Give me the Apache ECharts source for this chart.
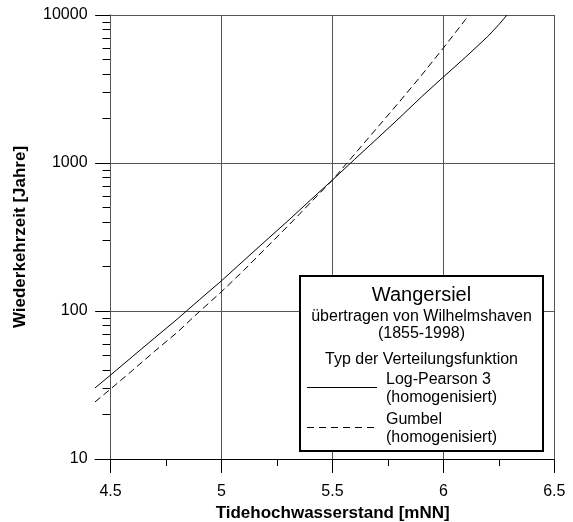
<!DOCTYPE html>
<html><head><meta charset="utf-8">
<script src="https://cdn.jsdelivr.net/npm/echarts@6/dist/echarts.min.js"></script>
<style>html,body{margin:0;padding:0;background:#fff}#c{width:573px;height:522px}</style>
</head><body><div id="c"></div>
<script>
// ---- data ----
const xMajorTicks = [4.5, 5, 5.5, 6, 6.5];
const xMinorTicks = [4.75, 5.25, 5.75, 6.25];
const yMajorTicks = [10, 100, 1000, 10000];
const yMinorTicks = [20, 30, 40, 50, 60, 70, 80, 90,
  200, 300, 400, 500, 600, 700, 800, 900,
  2000, 3000, 4000, 5000, 6000, 7000, 8000, 9000];

const xLogPearson = [4.43, 4.5, 4.6, 4.7, 4.8, 4.9, 5.0, 5.1, 5.2, 5.3, 5.4, 5.5, 5.6, 5.7, 5.8, 5.9, 6.0, 6.1, 6.2, 6.25, 6.287];
const yLogPearson = [30.2, 36.9, 49.4, 66, 88, 119, 160, 219, 299, 407, 560, 767, 1059, 1455, 2004, 2786, 3811, 5188, 7161, 8610, 10000];

const xGumbel = [4.43, 4.5, 4.6, 4.7, 4.8, 4.9, 5.0, 5.1, 5.2, 5.3, 5.4, 5.5, 5.6, 5.7, 5.8, 5.9, 6.0, 6.1, 6.115];
const yGumbel = [24.3, 29.7, 39.8, 53.7, 71.6, 98.9, 135, 188, 266, 376, 537, 767, 1148, 1718, 2570, 3890, 5984, 9333, 10000];

const xMin = 4.43, xMax = 6.5;
const FONT = '"Liberation Sans", Arial, sans-serif';

// ---- layout ----
const gridLeft = 95, gridRight = 18.7, gridTop = 15, gridBottom = 63;
const gridWidth = 573 - gridLeft - gridRight;
const yAxisOffset = -(4.5 - xMin) / (xMax - xMin) * gridWidth;

const chart = echarts.init(document.getElementById('c'), null, {renderer: 'canvas'});

const option = {
  animation: false,
  backgroundColor: '#fff',
  grid: {left: gridLeft, right: gridRight, top: gridTop, bottom: gridBottom, containLabel: false, outerBoundsMode: 'none'},
  xAxis: [{
    type: 'value', min: xMin, max: xMax, position: 'bottom',
    axisLine: {show: true, lineStyle: {color: '#000', width: 1}},
    axisTick: {show: true, inside: false, length: 14, customValues: xMajorTicks, lineStyle: {color: '#000'}},
    axisLabel: {show: true, customValues: xMajorTicks, margin: 25, fontSize: 16, color: '#000', fontFamily: FONT,
      formatter: v => String(v)},
    splitLine: {show: false},
    name: 'Tidehochwasserstand [mNN]', nameLocation: 'middle', nameGap: 38,
    nameTextStyle: {fontSize: 17, fontWeight: 'bold', color: '#000', fontFamily: FONT, padding: [0, 0, 0, 16]}
  }, {
    type: 'value', min: xMin, max: xMax, position: 'bottom',
    axisLine: {show: false},
    axisTick: {show: true, inside: false, length: 7, customValues: xMinorTicks, lineStyle: {color: '#000'}},
    axisLabel: {show: false},
    splitLine: {show: false}
  }],
  yAxis: [{
    type: 'log', logBase: 10, min: 10, max: 10000, offset: yAxisOffset,
    axisLine: {show: true, lineStyle: {color: '#000', width: 1}},
    axisTick: {show: true, inside: false, length: 15, customValues: yMajorTicks, lineStyle: {color: '#000'}},
    axisLabel: {show: true, customValues: yMajorTicks, margin: 23, fontSize: 16, color: '#000', fontFamily: FONT,
      formatter: v => String(Math.round(v))},
    splitLine: {show: true, lineStyle: {color: '#555', width: 1}},
    name: 'Wiederkehrzeit [Jahre]', nameLocation: 'middle', nameRotate: 90, nameGap: 82,
    nameTextStyle: {fontSize: 17, fontWeight: 'bold', color: '#000', fontFamily: FONT}
  }, {
    type: 'log', logBase: 10, min: 10, max: 10000, offset: yAxisOffset, position: 'left',
    axisLine: {show: false},
    axisTick: {show: true, inside: false, length: 8, customValues: yMinorTicks, lineStyle: {color: '#000'}},
    axisLabel: {show: false},
    splitLine: {show: false}
  }],
  series: [{
    name: 'Log-Pearson 3', type: 'line', xAxisIndex: 0, yAxisIndex: 0,
    data: xLogPearson.map((x, i) => [x, yLogPearson[i]]),
    showSymbol: false, symbol: 'none',
    lineStyle: {color: '#000', width: 1, type: 'solid'},
    z: 5,
    markLine: {
      silent: true, symbol: 'none', label: {show: false},
      lineStyle: {color: '#555', width: 1, type: 'solid'},
      data: xMajorTicks.map(v => ({xAxis: v})),
      z: 1
    }
  }, {
    name: 'Gumbel', type: 'line', xAxisIndex: 0, yAxisIndex: 0,
    data: xGumbel.map((x, i) => [x, yGumbel[i]]),
    showSymbol: false, symbol: 'none',
    lineStyle: {color: '#000', width: 1, type: [7, 4]},
    z: 5
  }],
  graphic: [
    {type: 'rect', z: 100, shape: {x: 300, y: 276, width: 243, height: 175},
     style: {fill: '#fff', stroke: '#000', lineWidth: 2}},
    {type: 'text', x: 421.5, y: 295, z: 101, style: {text: 'Wangersiel', font: '20px ' + FONT, fill: '#000', align: 'center', verticalAlign: 'middle'}},
    {type: 'text', x: 421.5, y: 317, z: 101, style: {text: 'übertragen von Wilhelmshaven', font: '16px ' + FONT, fill: '#000', align: 'center', verticalAlign: 'middle'}},
    {type: 'text', x: 421.5, y: 334, z: 101, style: {text: '(1855-1998)', font: '16px ' + FONT, fill: '#000', align: 'center', verticalAlign: 'middle'}},
    {type: 'text', x: 421.5, y: 360, z: 101, style: {text: 'Typ der Verteilungsfunktion', font: '16px ' + FONT, fill: '#000', align: 'center', verticalAlign: 'middle'}},
    {type: 'line', z: 101, shape: {x1: 307, y1: 387.5, x2: 377, y2: 387.5}, style: {stroke: '#000', lineWidth: 1}},
    {type: 'text', x: 386, y: 380, z: 101, style: {text: 'Log-Pearson 3', font: '16px ' + FONT, fill: '#000', align: 'left', verticalAlign: 'middle'}},
    {type: 'text', x: 386, y: 398, z: 101, style: {text: '(homogenisiert)', font: '16px ' + FONT, fill: '#000', align: 'left', verticalAlign: 'middle'}},
    {type: 'line', z: 101, shape: {x1: 307, y1: 427.5, x2: 377, y2: 427.5}, style: {stroke: '#000', lineWidth: 1, lineDash: [7, 5]}},
    {type: 'text', x: 386, y: 420, z: 101, style: {text: 'Gumbel', font: '16px ' + FONT, fill: '#000', align: 'left', verticalAlign: 'middle'}},
    {type: 'text', x: 386, y: 438, z: 101, style: {text: '(homogenisiert)', font: '16px ' + FONT, fill: '#000', align: 'left', verticalAlign: 'middle'}}
  ]
};
chart.setOption(option);
</script>
</body></html>
